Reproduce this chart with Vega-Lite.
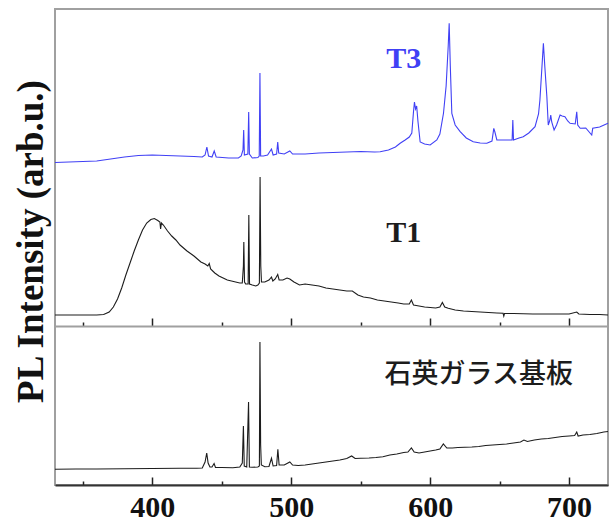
{
  "$schema": "https://vega.github.io/schema/vega-lite/v6.json",
  "width": 553,
  "height": 476,
  "autosize": {"type": "none"},
  "padding": {"left": 55, "top": 9, "right": 3, "bottom": 37},
  "background": "white",
  "config": {
    "view": {"stroke": "#a0a0a0", "strokeWidth": 2},
    "axis": {"grid": false},
    "axisY": {"labels": false, "ticks": false, "domain": false, "titleFont": "Liberation Serif", "titleFontWeight": "bold", "titleFontSize": 37, "titleColor": "#111111", "titlePadding": 5, "titleY": 232}
  },
  "datasets": {
    "spectra": [
      {"series":"T3","nm":330,"y":322.5},{"series":"T3","nm":340,"y":323},{"series":"T3","nm":350,"y":323.5},{"series":"T3","nm":360,"y":324},{"series":"T3","nm":370,"y":326},{"series":"T3","nm":380,"y":328},{"series":"T3","nm":390,"y":329.5},{"series":"T3","nm":400,"y":330},{"series":"T3","nm":410,"y":329.5},{"series":"T3","nm":420,"y":329},{"series":"T3","nm":430,"y":328.5},{"series":"T3","nm":436,"y":328},{"series":"T3","nm":438,"y":330},{"series":"T3","nm":439.3,"y":338},{"series":"T3","nm":440.5,"y":329},{"series":"T3","nm":443,"y":328},{"series":"T3","nm":444.6,"y":334},{"series":"T3","nm":446,"y":328},{"series":"T3","nm":455,"y":327},{"series":"T3","nm":462,"y":327},{"series":"T3","nm":464,"y":329},{"series":"T3","nm":465.3,"y":335},{"series":"T3","nm":465.8,"y":355},{"series":"T3","nm":466.3,"y":330},{"series":"T3","nm":468.8,"y":331},{"series":"T3","nm":469.4,"y":373},{"series":"T3","nm":469.9,"y":331},{"series":"T3","nm":472,"y":327},{"series":"T3","nm":476,"y":327.5},{"series":"T3","nm":477,"y":329},{"series":"T3","nm":477.5,"y":412},{"series":"T3","nm":478,"y":329},{"series":"T3","nm":480,"y":329},{"series":"T3","nm":483,"y":330},{"series":"T3","nm":485.8,"y":336},{"series":"T3","nm":487,"y":330},{"series":"T3","nm":489.5,"y":331},{"series":"T3","nm":490.3,"y":343},{"series":"T3","nm":491,"y":332},{"series":"T3","nm":495,"y":331},{"series":"T3","nm":499,"y":334},{"series":"T3","nm":501,"y":331},{"series":"T3","nm":510,"y":331},{"series":"T3","nm":520,"y":332},{"series":"T3","nm":530,"y":332.5},{"series":"T3","nm":540,"y":333},{"series":"T3","nm":550,"y":333.5},{"series":"T3","nm":560,"y":333},{"series":"T3","nm":564,"y":333.3},{"series":"T3","nm":570,"y":335},{"series":"T3","nm":575,"y":338},{"series":"T3","nm":578.4,"y":341.7},{"series":"T3","nm":582,"y":345},{"series":"T3","nm":585,"y":348},{"series":"T3","nm":586.8,"y":352},{"series":"T3","nm":588,"y":373},{"series":"T3","nm":588.7,"y":383},{"series":"T3","nm":589.5,"y":376},{"series":"T3","nm":590.3,"y":379},{"series":"T3","nm":591.2,"y":364},{"series":"T3","nm":592.8,"y":343},{"series":"T3","nm":596,"y":341},{"series":"T3","nm":600,"y":340},{"series":"T3","nm":604.8,"y":345},{"series":"T3","nm":607,"y":351},{"series":"T3","nm":609.6,"y":371.7},{"series":"T3","nm":611.5,"y":399},{"series":"T3","nm":613,"y":439},{"series":"T3","nm":613.7,"y":461.7},{"series":"T3","nm":614.5,"y":419},{"series":"T3","nm":615.6,"y":371.7},{"series":"T3","nm":618,"y":360},{"series":"T3","nm":621.6,"y":353.3},{"series":"T3","nm":626,"y":347},{"series":"T3","nm":631,"y":343.3},{"series":"T3","nm":636,"y":342},{"series":"T3","nm":640.8,"y":341.7},{"series":"T3","nm":644.5,"y":344},{"series":"T3","nm":645.8,"y":356.7},{"series":"T3","nm":646.6,"y":353},{"series":"T3","nm":648,"y":345},{"series":"T3","nm":652,"y":345},{"series":"T3","nm":655.2,"y":345},{"series":"T3","nm":659,"y":345},{"series":"T3","nm":659.5,"y":365},{"series":"T3","nm":660,"y":345},{"series":"T3","nm":664,"y":347},{"series":"T3","nm":667,"y":348.3},{"series":"T3","nm":671,"y":352},{"series":"T3","nm":675.5,"y":358.3},{"series":"T3","nm":678,"y":371},{"series":"T3","nm":679,"y":385},{"series":"T3","nm":680.5,"y":419},{"series":"T3","nm":681.5,"y":441.7},{"series":"T3","nm":682.5,"y":419},{"series":"T3","nm":684,"y":388.3},{"series":"T3","nm":685,"y":360},{"series":"T3","nm":686.2,"y":365},{"series":"T3","nm":686.8,"y":370},{"series":"T3","nm":687.5,"y":363},{"series":"T3","nm":689.2,"y":355},{"series":"T3","nm":691,"y":360},{"series":"T3","nm":693.5,"y":370},{"series":"T3","nm":695,"y":369},{"series":"T3","nm":697,"y":368.3},{"series":"T3","nm":699,"y":364},{"series":"T3","nm":700.7,"y":361.7},{"series":"T3","nm":704.4,"y":361},{"series":"T3","nm":705.5,"y":373.3},{"series":"T3","nm":706.2,"y":360},{"series":"T3","nm":708,"y":356.7},{"series":"T3","nm":712,"y":357},{"series":"T3","nm":716.3,"y":350},{"series":"T3","nm":717,"y":356.7},{"series":"T3","nm":722,"y":358},{"series":"T3","nm":728,"y":361.7},

      {"series":"T1","nm":330,"y":170},{"series":"T1","nm":340,"y":170},{"series":"T1","nm":350,"y":170},{"series":"T1","nm":360,"y":170},{"series":"T1","nm":365,"y":170.5},{"series":"T1","nm":369,"y":173},{"series":"T1","nm":372,"y":178},{"series":"T1","nm":375,"y":186},{"series":"T1","nm":378,"y":197},{"series":"T1","nm":381,"y":210},{"series":"T1","nm":384,"y":222},{"series":"T1","nm":387,"y":234},{"series":"T1","nm":390,"y":245},{"series":"T1","nm":393,"y":255},{"series":"T1","nm":396,"y":262},{"series":"T1","nm":399,"y":265.5},{"series":"T1","nm":401.5,"y":266.5},{"series":"T1","nm":404,"y":264.5},{"series":"T1","nm":405.5,"y":263},{"series":"T1","nm":406,"y":256},{"series":"T1","nm":406.6,"y":262},{"series":"T1","nm":408,"y":260},{"series":"T1","nm":411,"y":254},{"series":"T1","nm":414,"y":249},{"series":"T1","nm":417,"y":245},{"series":"T1","nm":420,"y":240},{"series":"T1","nm":425,"y":234},{"series":"T1","nm":430,"y":229},{"series":"T1","nm":435,"y":223},{"series":"T1","nm":438,"y":221},{"series":"T1","nm":440,"y":219},{"series":"T1","nm":441,"y":221.5},{"series":"T1","nm":442,"y":216},{"series":"T1","nm":445,"y":212},{"series":"T1","nm":448,"y":209},{"series":"T1","nm":451,"y":207},{"series":"T1","nm":454,"y":205},{"series":"T1","nm":457,"y":204},{"series":"T1","nm":460,"y":203},{"series":"T1","nm":463,"y":202},{"series":"T1","nm":464.8,"y":202},{"series":"T1","nm":465.6,"y":219},{"series":"T1","nm":465.9,"y":243},{"series":"T1","nm":466.4,"y":203},{"series":"T1","nm":467.2,"y":201},{"series":"T1","nm":469,"y":201},{"series":"T1","nm":469.5,"y":270},{"series":"T1","nm":470,"y":201},{"series":"T1","nm":472,"y":200},{"series":"T1","nm":474.5,"y":199},{"series":"T1","nm":476,"y":200},{"series":"T1","nm":477.1,"y":202},{"series":"T1","nm":477.6,"y":308},{"series":"T1","nm":478.1,"y":219},{"series":"T1","nm":478.6,"y":203},{"series":"T1","nm":481,"y":203},{"series":"T1","nm":484,"y":205},{"series":"T1","nm":485.8,"y":208},{"series":"T1","nm":486.8,"y":204},{"series":"T1","nm":488.5,"y":206},{"series":"T1","nm":490.3,"y":210.5},{"series":"T1","nm":491.3,"y":205},{"series":"T1","nm":494,"y":205},{"series":"T1","nm":497,"y":207},{"series":"T1","nm":499,"y":206},{"series":"T1","nm":502,"y":203},{"series":"T1","nm":506,"y":200},{"series":"T1","nm":510,"y":201},{"series":"T1","nm":515,"y":200},{"series":"T1","nm":520,"y":199},{"series":"T1","nm":525,"y":197},{"series":"T1","nm":530,"y":196},{"series":"T1","nm":535,"y":195},{"series":"T1","nm":540,"y":194},{"series":"T1","nm":544,"y":194},{"series":"T1","nm":548,"y":190},{"series":"T1","nm":552,"y":188},{"series":"T1","nm":557,"y":187},{"series":"T1","nm":562,"y":185},{"series":"T1","nm":567,"y":184},{"series":"T1","nm":572,"y":183},{"series":"T1","nm":577,"y":182},{"series":"T1","nm":581,"y":181},{"series":"T1","nm":585,"y":181},{"series":"T1","nm":586.5,"y":185},{"series":"T1","nm":588,"y":180},{"series":"T1","nm":592,"y":179},{"series":"T1","nm":596,"y":178},{"series":"T1","nm":600,"y":177.5},{"series":"T1","nm":604,"y":177},{"series":"T1","nm":607,"y":178},{"series":"T1","nm":608.8,"y":182.5},{"series":"T1","nm":610.5,"y":178},{"series":"T1","nm":613,"y":176.7},{"series":"T1","nm":618,"y":175},{"series":"T1","nm":624,"y":174},{"series":"T1","nm":630,"y":173.5},{"series":"T1","nm":636,"y":173},{"series":"T1","nm":642,"y":172.5},{"series":"T1","nm":648,"y":172},{"series":"T1","nm":652.5,"y":171.7},{"series":"T1","nm":653,"y":169},{"series":"T1","nm":653.5,"y":171.5},{"series":"T1","nm":660,"y":171.5},{"series":"T1","nm":667,"y":171.3},{"series":"T1","nm":674,"y":171},{"series":"T1","nm":680,"y":171},{"series":"T1","nm":690,"y":171},{"series":"T1","nm":700,"y":171},{"series":"T1","nm":705.5,"y":173},{"series":"T1","nm":707,"y":171},{"series":"T1","nm":715,"y":170.5},{"series":"T1","nm":722,"y":170.5},{"series":"T1","nm":728,"y":170},

      {"series":"石英ガラス基板","nm":330,"y":15.7},{"series":"石英ガラス基板","nm":345,"y":16},{"series":"石英ガラス基板","nm":360,"y":16},{"series":"石英ガラス基板","nm":380,"y":16.3},{"series":"石英ガラス基板","nm":400,"y":16.5},{"series":"石英ガラス基板","nm":420,"y":16.7},{"series":"石英ガラス基板","nm":432,"y":16.7},{"series":"石英ガラス基板","nm":436,"y":17},{"series":"石英ガラス基板","nm":438,"y":23},{"series":"石英ガラス基板","nm":439.2,"y":32},{"series":"石英ガラス基板","nm":440.2,"y":22},{"series":"石英ガラス基板","nm":441.5,"y":18},{"series":"石英ガラス基板","nm":443,"y":18},{"series":"石英ガラス基板","nm":444.5,"y":21.5},{"series":"石英ガラス基板","nm":445.5,"y":17.5},{"series":"石英ガラス基板","nm":450,"y":17.5},{"series":"石英ガラス基板","nm":458,"y":17.3},{"series":"石英ガラス基板","nm":463,"y":18},{"series":"石英ガラス基板","nm":464.8,"y":22},{"series":"石英ガラス基板","nm":465.6,"y":59},{"series":"石英ガラス基板","nm":466.2,"y":19},{"series":"石英ガラス基板","nm":468,"y":18},{"series":"石英ガラス基板","nm":469.3,"y":83},{"series":"石英ガラス基板","nm":469.9,"y":18},{"series":"石英ガラス基板","nm":472,"y":17.7},{"series":"石英ガラス基板","nm":476,"y":18},{"series":"石英ガラス基板","nm":477.1,"y":19},{"series":"石英ガラス基板","nm":477.5,"y":143},{"series":"石英ガラス基板","nm":478,"y":40},{"series":"石英ガラス基板","nm":478.5,"y":20},{"series":"石英ガラス基板","nm":481,"y":18.3},{"series":"石英ガラス基板","nm":484,"y":18.5},{"series":"石英ガラス基板","nm":485.8,"y":26.7},{"series":"石英ガラス基板","nm":487,"y":19},{"series":"石英ガラス基板","nm":489.5,"y":19.5},{"series":"石英ガラス基板","nm":490.4,"y":35.7},{"series":"石英ガラス基板","nm":491.3,"y":20},{"series":"石英ガラス基板","nm":495,"y":20},{"series":"石英ガラス基板","nm":499,"y":23},{"series":"石英ガラス基板","nm":501,"y":20},{"series":"石英ガラス基板","nm":505,"y":19.5},{"series":"石英ガラス基板","nm":510,"y":20},{"series":"石英ガラス基板","nm":515,"y":21},{"series":"石英ガラス基板","nm":520,"y":22},{"series":"石英ガラス基板","nm":525,"y":23},{"series":"石英ガラス基板","nm":530,"y":24},{"series":"石英ガラス基板","nm":535,"y":25},{"series":"石英ガラス基板","nm":540,"y":26.5},{"series":"石英ガラス基板","nm":543.5,"y":29},{"series":"石英ガラス基板","nm":546,"y":26.5},{"series":"石英ガラス基板","nm":550,"y":26.7},{"series":"石英ガラス基板","nm":556,"y":27},{"series":"石英ガラス基板","nm":561,"y":27.5},{"series":"石英ガラス基板","nm":566,"y":28.3},{"series":"石英ガラス基板","nm":571,"y":30},{"series":"石英ガラス基板","nm":576,"y":31},{"series":"石英ガラス基板","nm":581,"y":32.5},{"series":"石英ガラス基板","nm":584,"y":33},{"series":"石英ガラス基板","nm":586.5,"y":37},{"series":"石英ガラス基板","nm":588.5,"y":33},{"series":"石英ガラス基板","nm":592,"y":32},{"series":"石英ガラス基板","nm":596,"y":33},{"series":"石英ガラス基板","nm":600,"y":34},{"series":"石英ガラス基板","nm":604,"y":35},{"series":"石英ガラス基板","nm":607,"y":36},{"series":"石英ガラス基板","nm":609.5,"y":41},{"series":"石英ガラス基板","nm":612,"y":37},{"series":"石英ガラス基板","nm":616,"y":37},{"series":"石英ガラス基板","nm":620,"y":37.5},{"series":"石英ガラス基板","nm":625,"y":37.7},{"series":"石英ガラス基板","nm":630,"y":38},{"series":"石英ガラス基板","nm":635,"y":38.5},{"series":"石英ガラス基板","nm":640,"y":39.5},{"series":"石英ガラス基板","nm":645,"y":40},{"series":"石英ガラス基板","nm":650,"y":40.5},{"series":"石英ガラス基板","nm":655,"y":41},{"series":"石英ガラス基板","nm":660,"y":42},{"series":"石英ガラス基板","nm":665,"y":43},{"series":"石英ガラス基板","nm":667.5,"y":45},{"series":"石英ガラス基板","nm":670,"y":43.5},{"series":"石英ガラス基板","nm":675,"y":45},{"series":"石英ガラス基板","nm":680,"y":46},{"series":"石英ガラス基板","nm":685,"y":46.5},{"series":"石英ガラス基板","nm":690,"y":47.5},{"series":"石英ガラス基板","nm":695,"y":48.5},{"series":"石英ガラス基板","nm":700,"y":49},{"series":"石英ガラス基板","nm":704,"y":49.5},{"series":"石英ガラス基板","nm":705.5,"y":53},{"series":"石英ガラス基板","nm":706.5,"y":49},{"series":"石英ガラス基板","nm":710,"y":50},{"series":"石英ガラス基板","nm":715,"y":50.5},{"series":"石英ガラス基板","nm":720,"y":51.5},{"series":"石英ガラス基板","nm":725,"y":53},{"series":"石英ガラス基板","nm":728,"y":53.5}
    ],
    "labels": [
      {"series":"T3","label":"T3","nm":581,"y":426},
      {"series":"T1","label":"T1","nm":581,"y":252},
      {"series":"石英ガラス基板","label":"石英ガラス基板","nm":635,"y":110}
    ]
  },
  "resolve": {"axis": {"x": "independent"}},
  "layer": [
    {
      "data": {"name": "spectra"},
      "mark": {"type": "line", "strokeWidth": 1.1},
      "encoding": {
        "x": {"field": "nm", "type": "quantitative", "scale": {"domain": [330, 728], "nice": false, "zero": false},
          "axis": {"orient": "bottom", "title": null, "values": [350,400,450,500,550,600,650,700],
            "labelExpr": "datum.value % 100 === 0 ? datum.label : ''",
            "labelFont": "Liberation Serif", "labelFontWeight": "bold", "labelFontSize": 30, "labelColor": "#111111",
            "labelPadding": 15, "labelFlush": false, "labelOverlap": false,
            "tickSize": {"condition": {"test": "datum.value % 100 === 0", "value": -8}, "value": -4},
            "tickColor": "#222222", "tickWidth": 1.5, "domainColor": "#333333", "domainWidth": 2}},
        "y": {"field": "y", "type": "quantitative", "scale": {"domain": [0, 476], "nice": false, "zero": false}, "title": "PL Intensity (arb.u.)"},
        "color": {"field": "series", "type": "nominal", "scale": {"domain": ["T3", "T1", "石英ガラス基板"], "range": ["#4040f5", "#1c1c1c", "#1c1c1c"]}, "legend": null}
      }
    },
    {
      "data": {"name": "labels"},
      "transform": [{"filter": "datum.series !== '石英ガラス基板'"}],
      "mark": {"type": "text", "font": "Liberation Serif", "fontWeight": "bold", "fontSize": 30, "align": "center", "baseline": "middle"},
      "encoding": {
        "x": {"field": "nm", "type": "quantitative",
          "axis": {"orient": "top", "offset": -317, "title": null, "labels": false, "values": [350,400,450,500,550,600,650,700],
            "tickSize": {"condition": {"test": "datum.value % 100 === 0", "value": 8}, "value": 4},
            "tickColor": "#222222", "tickWidth": 1.5, "domainColor": "#a0a0a0", "domainWidth": 2}},
        "y": {"field": "y", "type": "quantitative", "title": "PL Intensity (arb.u.)"},
        "text": {"field": "label"},
        "color": {"field": "series", "type": "nominal", "legend": null}
      }
    },
    {
      "data": {"name": "labels"},
      "transform": [{"filter": "datum.series === '石英ガラス基板'"}],
      "mark": {"type": "text", "font": "Noto Sans CJK JP", "fontWeight": 500, "fontSize": 27, "align": "center", "baseline": "middle", "color": "#1c1c1c"},
      "encoding": {
        "x": {"field": "nm", "type": "quantitative", "axis": null},
        "y": {"field": "y", "type": "quantitative", "title": "PL Intensity (arb.u.)"},
        "text": {"field": "label"}
      }
    }
  ]
}
